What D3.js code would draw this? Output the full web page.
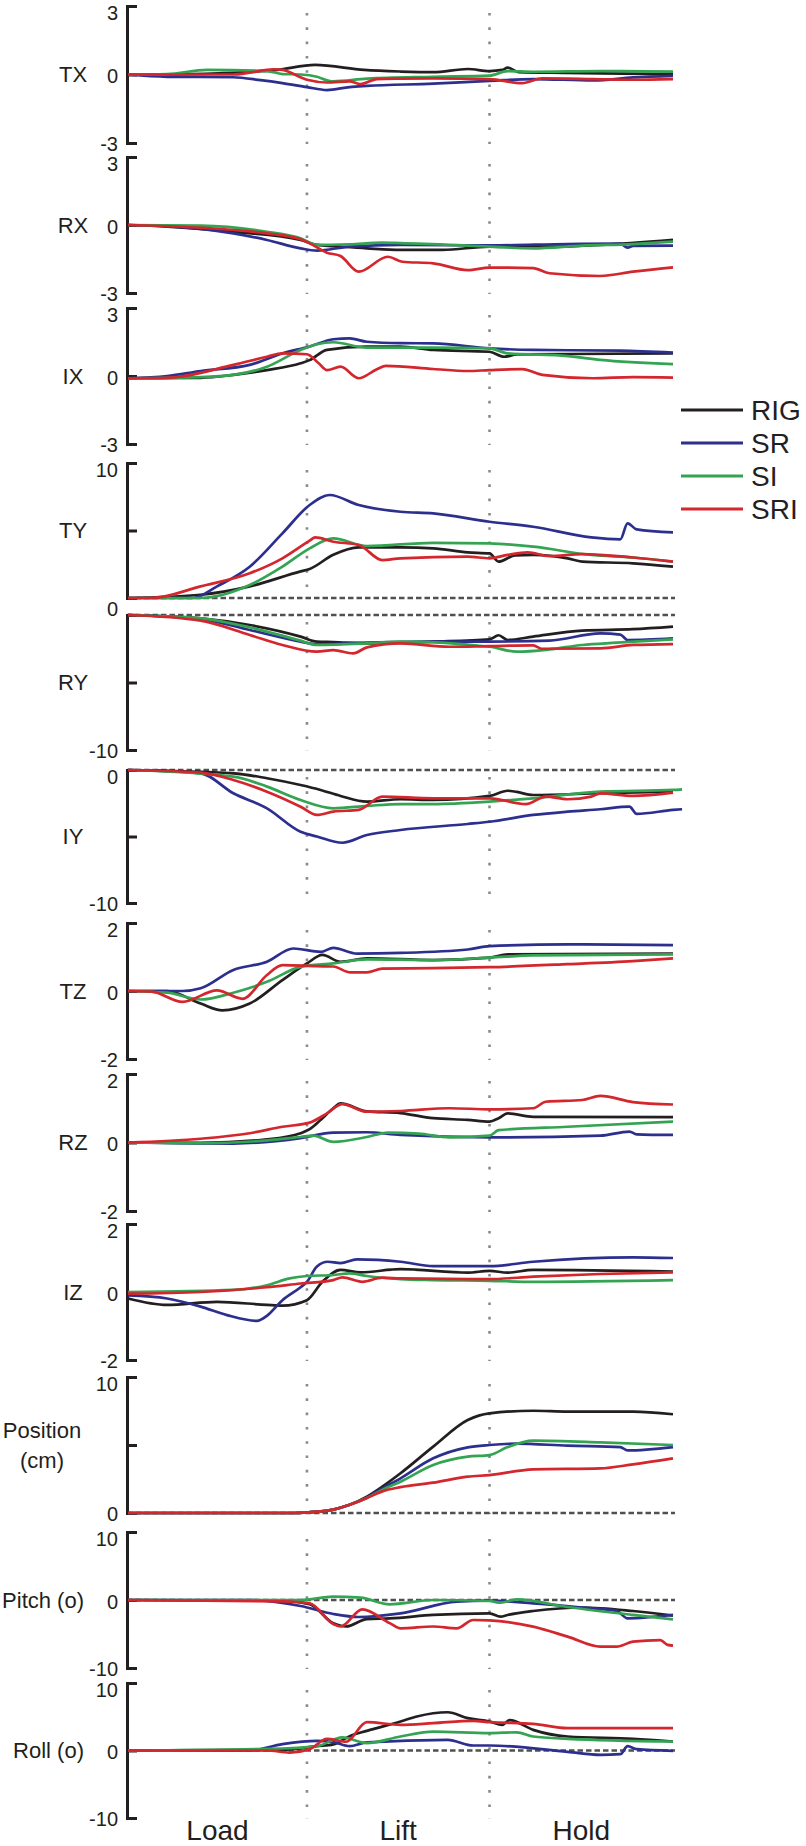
<!DOCTYPE html>
<html><head><meta charset="utf-8">
<script src="https://cdn.jsdelivr.net/npm/d3@7"></script>
<style>
body{margin:0;background:#fff}
svg{display:block}
text{font-family:"Liberation Sans",Arial,Helvetica,sans-serif;fill:#231f20}
</style>
</head><body><svg id="c" width="806" height="1846"></svg>
<script>
// ---------- data ----------
const seriesNames = ["RIG", "SR", "SI", "SRI"];
const seriesColors = ["#231f20", "#2c2f8e", "#34a453", "#d3262d"];
const phaseLabels = ["Load", "Lift", "Hold"];
const phaseBounds = [0.985, 1.99];     // time of Load|Lift and Lift|Hold transitions
const timeDomain = [0, 3];

const panelNames = ["TX", "RX", "IX", "TY", "RY", "IY", "TZ", "RZ", "IZ", "Position\n(cm)", "Pitch (o)", "Roll (o)"];
const panelDomains = [[-3,3],[-3,3],[-3,3],[0,10],[-10,0],[-10,0],[-2,2],[-2,2],[-2,2],[0,10],[-10,10],[-10,10]];
const panelTicks = [[-3,0,3],[-3,0,3],[-3,0,3],[0,5,10],[-10,-5,0],[-10,-5,0],[-2,0,2],[-2,0,2],[-2,0,2],[0,5,10],[-10,0,10],[-10,0,10]];
// TY's "0" coincides with RY's "0" in the figure; it is printed once (with RY)
const panelTickLabels = [[-3,0,3],[-3,0,3],[-3,0,3],[10],[-10,0],[-10,0],[-2,0,2],[-2,0,2],[-2,0,2],[0,10],[-10,0,10],[-10,0,10]];
const panelZeroLine = [false,false,false,true,true,true,false,false,false,true,true,true];

const TX = {
  RIG: [[0,0],[0.2,0],[0.5,0.05],[0.82,0.2],[1.03,0.42],[1.3,0.2],[1.5,0.13],[1.68,0.1],[1.87,0.24],[1.99,0.15],[2.06,0.2],[2.09,0.3],[2.15,0.1],[2.4,0.07],[2.6,0.05],[3.0,0.02]],
  SR:  [[0,0],[0.215,-0.1],[0.58,-0.12],[0.73,-0.25],[0.85,-0.38],[0.985,-0.55],[1.095,-0.68],[1.22,-0.55],[1.315,-0.5],[1.68,-0.4],[1.99,-0.28],[2.23,-0.2],[2.56,-0.26],[2.78,-0.13],[3.0,-0.06]],
  SI:  [[0,0],[0.215,0.02],[0.435,0.2],[0.765,0.15],[0.85,0.02],[0.95,0],[1.04,-0.1],[1.095,-0.25],[1.13,-0.3],[1.315,-0.18],[1.68,-0.1],[1.99,-0.05],[2.09,0.15],[2.23,0.12],[2.6,0.15],[3.0,0.13]],
  SRI: [[0,0],[0.58,0],[0.67,0.08],[0.8,0.23],[0.85,0.2],[0.985,-0.23],[1.095,-0.35],[1.22,-0.3],[1.28,-0.42],[1.37,-0.2],[1.5,-0.18],[1.68,-0.17],[1.99,-0.2],[2.17,-0.38],[2.28,-0.17],[2.56,-0.2],[2.78,-0.23],[3.0,-0.2]]
};
const RX = {
  RIG: [[0,0],[0.215,-0.07],[0.58,-0.3],[0.95,-0.66],[1.04,-0.88],[1.13,-0.93],[1.315,-1.03],[1.5,-1.1],[1.73,-1.1],[1.99,-0.95],[2.23,-0.98],[2.6,-0.88],[3.0,-0.66]],
  SR:  [[0,0],[0.215,-0.05],[0.58,-0.37],[0.765,-0.66],[0.95,-1.03],[1.04,-1.13],[1.22,-0.95],[1.5,-0.88],[1.99,-0.9],[2.42,-0.84],[2.71,-0.82],[2.75,-1.0],[2.78,-0.92],[3.0,-0.91]],
  SI:  [[0,0],[0.4,-0.03],[0.765,-0.3],[0.95,-0.59],[1.04,-0.88],[1.22,-0.85],[1.4,-0.78],[1.5,-0.8],[1.87,-0.91],[1.99,-0.95],[2.23,-1.03],[2.5,-0.91],[2.78,-0.84],[3.0,-0.73]],
  SRI: [[0,0],[0.58,-0.22],[0.765,-0.37],[0.95,-0.63],[1.0,-0.81],[1.095,-1.22],[1.17,-1.37],[1.27,-2.06],[1.43,-1.4],[1.51,-1.62],[1.68,-1.69],[1.87,-1.99],[1.99,-1.88],[2.23,-1.9],[2.32,-2.13],[2.6,-2.25],[2.78,-2.06],[3.0,-1.87]]
};
const IX = {
  RIG: [[0,-0.1],[0.4,-0.08],[0.58,0.05],[0.765,0.26],[0.95,0.56],[1.0,0.7],[1.095,1.15],[1.315,1.3],[1.5,1.3],[1.68,1.15],[1.99,1.07],[2.07,0.85],[2.14,0.95],[2.42,0.97],[3.0,1.0]],
  SR:  [[0,-0.1],[0.215,0.0],[0.4,0.22],[0.67,0.49],[0.85,1.0],[1.0,1.3],[1.13,1.62],[1.22,1.66],[1.315,1.51],[1.5,1.45],[1.68,1.44],[1.99,1.22],[2.23,1.15],[2.71,1.12],[3.0,1.03]],
  SI:  [[0,-0.1],[0.4,-0.05],[0.58,0.05],[0.765,0.41],[0.95,1.15],[1.04,1.4],[1.13,1.49],[1.315,1.25],[1.68,1.25],[1.99,1.22],[2.09,1.0],[2.42,0.88],[2.6,0.71],[3.0,0.52]],
  SRI: [[0,-0.1],[0.215,-0.08],[0.58,0.49],[0.765,0.85],[0.85,1.0],[0.985,0.96],[1.05,0.56],[1.095,0.26],[1.17,0.41],[1.27,-0.1],[1.37,0.3],[1.42,0.45],[1.68,0.31],[1.87,0.22],[1.99,0.26],[2.17,0.3],[2.28,0.05],[2.56,-0.1],[2.78,-0.05],[3.0,-0.07]]
};
const TY = {
  RIG: [[0,0],[0.4,0.24],[0.67,0.86],[0.95,1.97],[1.0,2.15],[1.13,3.2],[1.27,3.75],[1.5,3.75],[1.68,3.68],[1.87,3.38],[1.99,3.3],[2.04,2.69],[2.13,3.16],[2.23,3.2],[2.42,2.94],[2.5,2.69],[2.78,2.57],[3.0,2.32]],
  SR:  [[0,0],[0.36,0],[0.49,0.86],[0.67,2.32],[0.85,4.79],[1.0,6.89],[1.11,7.63],[1.27,6.89],[1.5,6.39],[1.68,6.27],[1.99,5.65],[2.23,5.28],[2.55,4.49],[2.71,4.35],[2.75,5.53],[2.8,5.08],[3.0,4.86]],
  SI:  [[0,0],[0.4,0],[0.67,0.96],[0.85,2.32],[1.0,3.68],[1.13,4.42],[1.315,3.85],[1.68,4.09],[1.99,4.04],[2.23,3.8],[2.55,3.19],[2.78,3.0],[3.0,2.69]],
  SRI: [[0,0],[0.13,0],[0.4,0.86],[0.67,1.83],[0.85,2.94],[1.0,4.25],[1.03,4.49],[1.13,4.17],[1.27,3.93],[1.4,2.81],[1.5,2.94],[1.87,3.06],[1.99,2.94],[2.09,3.19],[2.2,3.38],[2.32,3.1],[2.5,3.25],[2.78,3.0],[3.0,2.69]]
};
const RY = {
  RIG: [[0,0],[0.4,-0.25],[0.67,-0.74],[0.95,-1.6],[1.04,-1.97],[1.13,-2.0],[1.315,-2.1],[1.68,-1.97],[1.99,-1.8],[2.04,-1.5],[2.09,-1.85],[2.23,-1.6],[2.5,-1.16],[2.78,-1.05],[3.0,-0.86]],
  SR:  [[0,0],[0.4,-0.3],[0.67,-1.11],[0.95,-1.97],[1.04,-2.17],[1.315,-2.05],[1.68,-1.97],[1.99,-1.97],[2.32,-1.9],[2.6,-1.36],[2.71,-1.45],[2.75,-1.85],[3.0,-1.73]],
  SI:  [[0,0],[0.4,-0.25],[0.67,-0.91],[0.95,-1.9],[1.04,-2.22],[1.315,-2.1],[1.5,-1.97],[1.99,-2.35],[2.14,-2.72],[2.32,-2.55],[2.5,-2.22],[2.69,-2.05],[3.0,-1.8]],
  SRI: [[0,0],[0.4,-0.42],[0.67,-1.48],[0.85,-2.22],[1.04,-2.72],[1.13,-2.6],[1.24,-2.84],[1.315,-2.4],[1.5,-2.1],[1.77,-2.35],[1.99,-2.3],[2.23,-2.25],[2.28,-2.5],[2.6,-2.47],[2.78,-2.22],[3.0,-2.15]]
};
const IY = {
  RIG: [[0,0],[0.58,-0.25],[0.765,-0.62],[0.95,-1.13],[1.06,-1.5],[1.17,-1.95],[1.315,-2.38],[1.5,-2.2],[1.68,-2.25],[1.99,-1.95],[2.09,-1.56],[2.14,-1.65],[2.23,-1.88],[2.6,-1.75],[3.0,-1.63]],
  SR:  [[0,0],[0.4,-0.25],[0.58,-1.75],[0.765,-2.88],[0.95,-4.64],[1.04,-5.0],[1.18,-5.47],[1.315,-4.89],[1.5,-4.51],[1.87,-4.06],[1.99,-3.89],[2.23,-3.38],[2.42,-3.13],[2.6,-2.95],[2.76,-2.76],[2.8,-3.3],[3.0,-3.0],[3.05,-2.95]],
  SI:  [[0,0],[0.58,-0.5],[0.765,-1.25],[0.95,-2.26],[1.13,-2.88],[1.315,-2.7],[1.5,-2.56],[1.68,-2.56],[1.99,-2.38],[2.23,-2.13],[2.6,-1.63],[3.0,-1.5],[3.05,-1.45]],
  SRI: [[0,0],[0.4,-0.2],[0.58,-0.75],[0.765,-1.63],[0.95,-2.76],[1.04,-3.38],[1.13,-3.13],[1.27,-3.0],[1.4,-2.0],[1.68,-2.13],[1.99,-2.13],[2.19,-2.56],[2.3,-2.0],[2.42,-2.2],[2.55,-2.0],[2.6,-1.75],[2.78,-1.95],[3.0,-1.7]]
};
const TZ = {
  RIG: [[0,0],[0.215,0],[0.4,-0.37],[0.52,-0.57],[0.67,-0.37],[0.85,0.32],[0.985,0.81],[1.07,1.06],[1.17,0.86],[1.315,0.96],[1.68,0.91],[1.99,0.98],[2.09,1.08],[3.0,1.1]],
  SR:  [[0,0],[0.3,0],[0.4,0.08],[0.58,0.62],[0.765,0.86],[0.91,1.25],[1.06,1.15],[1.13,1.27],[1.26,1.1],[1.5,1.12],[1.87,1.22],[1.99,1.32],[2.42,1.37],[3.0,1.35]],
  SI:  [[0,0],[0.215,-0.05],[0.4,-0.25],[0.58,-0.05],[0.765,0.27],[0.95,0.71],[1.13,0.81],[1.315,0.93],[1.68,0.91],[1.99,0.98],[2.23,1.05],[3.0,1.08]],
  SRI: [[0,0],[0.13,-0.02],[0.3,-0.32],[0.49,0.02],[0.63,-0.23],[0.765,0.47],[0.85,0.76],[1.04,0.73],[1.13,0.72],[1.22,0.55],[1.315,0.55],[1.4,0.66],[1.68,0.67],[1.99,0.7],[2.42,0.79],[2.78,0.88],[3.0,0.96]]
};
const RZ = {
  RIG: [[0,0],[0.4,-0.01],[0.765,0.09],[0.95,0.27],[1.0,0.39],[1.06,0.66],[1.13,1.0],[1.17,1.14],[1.315,0.91],[1.5,0.86],[1.68,0.71],[1.87,0.66],[1.99,0.61],[2.04,0.71],[2.09,0.85],[2.23,0.75],[3.0,0.74]],
  SR:  [[0,0],[0.58,-0.03],[0.95,0.13],[1.13,0.29],[1.315,0.3],[1.5,0.22],[1.99,0.15],[2.6,0.2],[2.76,0.32],[2.8,0.24],[3.0,0.22]],
  SI:  [[0,0],[0.4,-0.02],[0.765,0.06],[0.95,0.16],[1.02,0.2],[1.13,0.02],[1.315,0.16],[1.43,0.29],[1.6,0.26],[1.77,0.15],[1.99,0.2],[2.04,0.36],[2.42,0.46],[3.0,0.61]],
  SRI: [[0,0],[0.4,0.11],[0.67,0.27],[0.85,0.46],[1.0,0.58],[1.095,0.85],[1.18,1.12],[1.315,0.9],[1.5,0.92],[1.77,1.0],[1.99,0.97],[2.23,1.0],[2.3,1.19],[2.5,1.24],[2.6,1.36],[2.78,1.18],[3.0,1.11]]
};
const IZ = {
  RIG: [[0,-0.19],[0.215,-0.38],[0.49,-0.29],[0.765,-0.38],[0.85,-0.4],[0.985,-0.24],[1.07,0.3],[1.17,0.65],[1.28,0.58],[1.5,0.67],[1.87,0.57],[1.99,0.62],[2.09,0.57],[2.23,0.65],[3.0,0.6]],
  SR:  [[0,-0.1],[0.215,-0.19],[0.4,-0.43],[0.545,-0.68],[0.71,-0.85],[0.765,-0.7],[0.85,-0.24],[0.95,0.14],[0.985,0.3],[1.04,0.75],[1.1,0.89],[1.17,0.85],[1.26,0.96],[1.5,0.89],[1.68,0.76],[1.99,0.76],[2.23,0.89],[2.78,1.02],[3.0,1.0]],
  SI:  [[0,0],[0.58,0.06],[0.765,0.2],[0.89,0.4],[0.985,0.47],[1.13,0.5],[1.22,0.55],[1.315,0.47],[1.5,0.38],[1.68,0.35],[1.99,0.33],[2.23,0.3],[3.0,0.35]],
  SRI: [[0,-0.05],[0.4,0.0],[0.765,0.14],[0.95,0.25],[1.13,0.35],[1.18,0.43],[1.29,0.3],[1.4,0.42],[1.5,0.4],[1.99,0.38],[2.23,0.45],[2.6,0.53],[3.0,0.58]]
};
const POS = {
  RIG: [[0,0],[0.9,0],[0.985,0.05],[1.13,0.25],[1.22,0.6],[1.315,1.2],[1.4,1.94],[1.5,2.92],[1.68,4.88],[1.87,6.84],[1.99,7.33],[2.23,7.52],[2.42,7.45],[2.78,7.45],[3.0,7.26]],
  SR:  [[0,0],[0.9,0],[0.985,0.05],[1.13,0.25],[1.22,0.6],[1.315,1.15],[1.4,1.8],[1.5,2.55],[1.68,4.02],[1.87,4.83],[1.99,5.0],[2.14,5.1],[2.42,4.95],[2.71,4.85],[2.75,4.6],[3.0,4.85]],
  SI:  [[0,0],[0.9,0],[0.985,0.05],[1.13,0.25],[1.22,0.6],[1.315,1.1],[1.4,1.7],[1.5,2.3],[1.68,3.53],[1.87,4.14],[1.99,4.26],[2.09,4.85],[2.23,5.32],[2.6,5.2],[3.0,5.0]],
  SRI: [[0,0],[0.9,0],[0.985,0.05],[1.13,0.25],[1.22,0.6],[1.315,1.1],[1.4,1.59],[1.5,1.9],[1.68,2.23],[1.87,2.67],[1.99,2.79],[2.23,3.21],[2.6,3.28],[2.78,3.58],[3.0,4.02]]
};
const PITCH = {
  RIG: [[0,0],[0.85,-0.1],[1.0,-0.6],[1.13,-3.43],[1.2,-3.9],[1.315,-2.8],[1.44,-2.7],[1.68,-2.2],[1.99,-1.96],[2.05,-2.45],[2.09,-2.2],[2.23,-1.62],[2.5,-1.1],[2.78,-1.62],[3.0,-2.3]],
  SR:  [[0,0],[0.67,0],[0.95,-0.88],[1.13,-2.06],[1.27,-2.5],[1.5,-1.96],[1.81,-0.25],[1.99,-0.1],[2.23,-0.5],[2.5,-1.1],[2.69,-1.6],[2.75,-2.7],[3.0,-2.2]],
  SI:  [[0,0],[0.95,0],[1.13,0.49],[1.28,0.35],[1.44,-0.64],[1.68,0],[1.99,-0.15],[2.05,-0.4],[2.14,0.1],[2.42,-1.03],[2.78,-2.2],[3.0,-2.84]],
  SRI: [[0,0],[0.85,-0.2],[1.0,-0.5],[1.13,-3.53],[1.17,-3.9],[1.29,-1.37],[1.44,-3.4],[1.5,-4.17],[1.68,-3.9],[1.81,-4.17],[1.9,-2.94],[1.99,-3.0],[2.23,-3.92],[2.42,-5.39],[2.6,-6.86],[2.69,-6.86],[2.78,-6.13],[2.93,-5.9],[2.97,-6.6],[3.0,-6.7]]
};
const ROLL = {
  RIG: [[0,0],[0.85,0.1],[1.04,0.64],[1.13,0.9],[1.22,2.12],[1.315,2.91],[1.5,4.3],[1.59,5.04],[1.76,5.67],[1.87,4.79],[1.99,4.3],[2.06,3.8],[2.1,4.5],[2.23,3.06],[2.42,2.07],[2.78,1.73],[3.0,1.33]],
  SR:  [[0,0],[0.67,0],[0.85,0.94],[1.04,1.43],[1.13,1.25],[1.22,0.64],[1.315,1.2],[1.76,1.58],[1.9,0.74],[1.99,0.74],[2.42,-0.2],[2.6,-0.64],[2.71,-0.55],[2.75,0.64],[2.8,0.2],[3.0,-0.05]],
  SI:  [[0,0],[0.85,0.3],[1.04,0.64],[1.18,1.93],[1.315,1.09],[1.5,2.07],[1.68,2.81],[1.99,2.57],[2.14,2.7],[2.23,2.07],[2.42,1.73],[3.0,1.33]],
  SRI: [[0,0],[0.765,0],[0.89,-0.3],[1.0,0.2],[1.095,1.73],[1.2,1.3],[1.315,4.2],[1.5,3.8],[1.68,4.05],[1.9,4.4],[1.99,4.2],[2.23,3.95],[2.42,3.31],[3.0,3.31]]
};
const panelData = [TX, RX, IX, TY, RY, IY, TZ, RZ, IZ, POS, PITCH, ROLL];

// ---------- layout ----------
const panelTop    = [6, 157, 308, 463, 615, 770, 923, 1074, 1224, 1377, 1532, 1683];
const panelBottom = [143, 293, 444, 598, 750, 903, 1059, 1211, 1360, 1513, 1668, 1818];
const axisX = 127;
const plotRight = 673;
const ink = "#231f20";

const svg = d3.select("#c");
const x = d3.scaleLinear().domain(timeDomain).range([axisX + 1, plotRight]);

panelNames.forEach((name, i) => {
  const top = panelTop[i], bot = panelBottom[i];
  const y = d3.scaleLinear().domain(panelDomains[i]).range([bot, top]);
  const g = svg.append("g");

  // phase dotted lines
  phaseBounds.forEach(b => {
    g.append("line")
      .attr("x1", x(b)).attr("x2", x(b))
      .attr("y1", top + 7).attr("y2", bot + 1)
      .attr("stroke", "#8a8a8a").attr("stroke-width", 2.6)
      .attr("stroke-dasharray", "2.6 11.7");
  });

  // zero dashed line
  if (panelZeroLine[i]) {
    g.append("line")
      .attr("x1", axisX).attr("x2", plotRight + 2)
      .attr("y1", y(0)).attr("y2", y(0))
      .attr("stroke", "#505050").attr("stroke-width", 2.6)
      .attr("stroke-dasharray", "5.5 3");
  }

  // axis
  const labs = panelTickLabels[i];
  const ax = g.append("g").attr("transform", `translate(${axisX},0)`)
    .call(d3.axisLeft(y).tickValues(panelTicks[i]).tickSizeInner(-10).tickSizeOuter(0).tickPadding(9)
      .tickFormat(d => labs.includes(d) ? String(d) : ""));
  ax.attr("font-size", null).attr("font-family", null);
  ax.select(".domain").attr("stroke", ink).attr("stroke-width", 3).attr("stroke-linecap", "square");
  ax.selectAll(".tick line").attr("stroke", ink).attr("stroke-width", 3);
  ax.selectAll(".tick text").style("font-size", "20px").attr("fill", ink)
    .attr("dy", null).attr("dominant-baseline", "central")
    .attr("y", d => {
      const [lo, hi] = panelDomains[i];
      if (d === hi) return (i === 4) ? -7 : 6;
      if (d === lo) return 0;
      return 1;
    });

  // data lines
  const line = d3.line().x(d => x(d[0])).y(d => y(d[1])).curve(d3.curveMonotoneX);
  seriesNames.forEach((s, k) => {
    g.append("path").datum(panelData[i][s])
      .attr("fill", "none").attr("stroke", seriesColors[k])
      .attr("stroke-width", 2.7).attr("stroke-linejoin", "round")
      .attr("d", line);
  });

  // panel label
  const mid = (top + bot) / 2;
  const parts = name.split("\n");
  let lx = 73, anchor = "middle";
  if (parts.length > 1) { lx = 42; }
  else if (name.length > 3) { lx = 84; anchor = "end"; }
  parts.forEach((p, j) => {
    svg.append("text")
      .attr("x", lx).attr("y", mid + (j - (parts.length - 1) / 2) * 30)
      .attr("text-anchor", anchor).attr("dominant-baseline", "central")
      .style("font-size", "22px").text(p);
  });
});

// phase labels
const phaseCenters = [ (timeDomain[0] + phaseBounds[0]) / 2, (phaseBounds[0] + phaseBounds[1]) / 2, (phaseBounds[1] + timeDomain[1]) / 2 ];
phaseLabels.forEach((p, j) => {
  svg.append("text").attr("x", x(phaseCenters[j])).attr("y", 1840)
    .attr("text-anchor", "middle").style("font-size", "28px").text(p);
});

// legend
const legY = d3.scalePoint().domain(seriesNames).range([410, 509]);
seriesNames.forEach((s, k) => {
  svg.append("line").attr("x1", 681).attr("x2", 743)
    .attr("y1", legY(s)).attr("y2", legY(s))
    .attr("stroke", seriesColors[k]).attr("stroke-width", 2.8);
  svg.append("text").attr("x", 751).attr("y", legY(s))
    .attr("dominant-baseline", "central").style("font-size", "28px").text(s);
});
</script>
</body></html>
